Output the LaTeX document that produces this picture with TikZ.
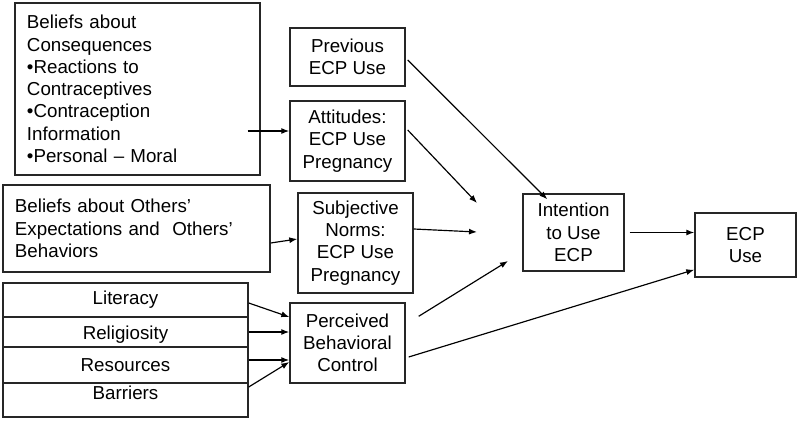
\documentclass[tikz,border=0pt]{standalone}
\usepackage{fontspec}
\setmainfont{Liberation Sans}
\usetikzlibrary{arrows.meta,calc}
\begin{document}
\begin{tikzpicture}[x=0.03cm, y=-0.03cm,
  box/.style={draw=black!85, line width=1.2pt, inner sep=0pt, align=center, font=\fontsize{16}{19}\selectfont},
  row/.style={box, minimum width=7.35cm},
  arr/.style={line width=1pt, -{Latex[length=2.4mm,width=1.8mm]}}]
  \useasboundingbox (0,0) rectangle (800,422);

  \node[box, minimum width=7.35cm, minimum height=5.16cm, text width=6.63cm, align=left] at (137.5,89) (cons) {Beliefs about\\Consequences\\•Reactions to\\Contraceptives\\•Contraception\\Information\\•Personal – Moral};
  \node[box, minimum width=8.01cm, minimum height=2.61cm, text width=7.29cm, align=left] at (136.5,228.5) (others) {Beliefs about Others’\\Expectations and~ Others’\\Behaviors};

  \node[row, minimum height=1.02cm] at (125.5,300) (lit) {Literacy};
  \node[row, minimum height=0.9cm, text height=0.55cm] at (125.5,332) (rel) {Religiosity};
  \node[row, minimum height=1.08cm] at (125.5,365) (res) {Resources};
  \node[row, minimum height=1.02cm, text depth=0.42cm] at (125.5,400) (bar) {Barriers};

  \node[box, minimum width=3.45cm, minimum height=1.74cm] at (347.5,57) (prev) {Previous\\ECP Use};
  \node[box, minimum width=3.45cm, minimum height=2.4cm] at (347.5,141) (att) {Attitudes:\\ECP Use\\Pregnancy};
  \node[box, minimum width=3.45cm, minimum height=3cm] at (355.5,243) (subj) {Subjective\\Norms:\\ECP Use\\Pregnancy};
  \node[box, minimum width=3.45cm, minimum height=2.4cm] at (347.5,343) (pbc) {Perceived\\Behavioral\\Control};

  \node[box, minimum width=3.03cm, minimum height=2.31cm] at (573.5,232.5) (intent) {Intention\\to Use\\ECP};
  \node[box, minimum width=3.03cm, minimum height=1.92cm] at (745.5,245) (use) {ECP\\Use};

  % loose arrow ends in the gap before the intention box
  \coordinate (attend) at (477,203);
  \coordinate (subjend) at (477,232);
  \coordinate (pbcend) at (508,261);

  \path
  ($(cons.east)+(-13,42)$) edge[arr] ($(att.west)+(0,-10)$)
  ($(others.east)+(0,14.5)$) edge[arr] ($(subj.west)+(0,-4)$)
  ($(lit.east)+(0,3)$) edge[arr] ($(pbc.west)+(0,-26)$)
  (rel.east) edge[arr] ($(pbc.west)+(0,-11)$)
  ($(res.east)+(0,-5)$) edge[arr] ($(pbc.west)+(0,17)$)
  ($(bar.east)+(0,-13)$) edge[arr] ($(pbc.west)+(0,19)$)
  ($(prev.east)+(2,3)$) edge[arr] ($(intent.north west)+(25,6)$)
  ($(att.east)+(2,-11)$) edge[arr] (attend)
  ($(subj.east)+(0,-14)$) edge[arr] (subjend)
  ($(pbc.north east)+(13,14)$) edge[arr] (pbcend)
  ($(pbc.east)+(3,14)$) edge[arr] ($(use.south west)+(0,-8)$)
  ($(intent.east)+(5,0)$) edge[arr] (intent.east -| use.west);
\end{tikzpicture}
\end{document}
